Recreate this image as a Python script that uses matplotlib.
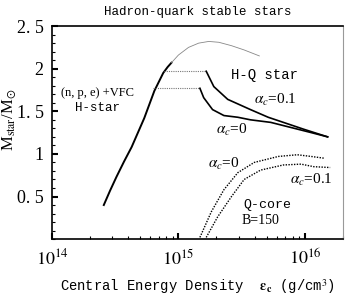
import numpy as np
import matplotlib.pyplot as plt
from matplotlib.ticker import MultipleLocator, LogLocator, NullFormatter

# hadron star branch (solid), log10 of central energy density
h_x = [14.41, 14.46, 14.51, 14.57, 14.63, 14.68, 14.73, 14.77, 14.81, 14.85, 14.88, 14.915, 14.945]
h_m = [0.40, 0.57, 0.73, 0.91, 1.08, 1.25, 1.42, 1.58, 1.74, 1.86, 1.95, 2.02, 2.07]
# continuation of pure hadron branch (thin)
hc_x = [14.945, 15.0, 15.08, 15.16, 15.24, 15.32, 15.42, 15.52, 15.64]
hc_m = [2.07, 2.16, 2.25, 2.30, 2.32, 2.31, 2.27, 2.22, 2.15]
# plateaus (dotted)
p1_x = [14.89, 15.22]
p1_m = [1.97, 1.97]
p0_x = [14.80, 15.17]
p0_m = [1.77, 1.77]
# H-Q star branches
hq1_x = [15.22, 15.28, 15.39, 15.57, 15.71, 15.83, 15.99, 16.18]
hq1_m = [1.97, 1.79, 1.64, 1.52, 1.43, 1.37, 1.29, 1.20]
hq0_x = [15.17, 15.20, 15.27, 15.36, 15.47, 15.57, 15.73, 15.89, 16.05, 16.18]
hq0_m = [1.77, 1.66, 1.52, 1.45, 1.43, 1.40, 1.37, 1.31, 1.25, 1.20]
# Q-core masses
qc0_x = [15.17, 15.26, 15.36, 15.47, 15.60, 15.79, 15.94, 16.05, 16.15]
qc0_m = [0.02, 0.32, 0.58, 0.78, 0.90, 0.97, 0.99, 0.97, 0.95]
qc1_x = [15.22, 15.31, 15.42, 15.52, 15.65, 15.83, 15.97, 16.07, 16.20]
qc1_m = [0.02, 0.26, 0.50, 0.70, 0.81, 0.87, 0.88, 0.85, 0.84]

mono = 'Liberation Mono'
serif = 'Liberation Serif'
plt.rcParams['font.family'] = [mono, 'DejaVu Sans']
plt.rcParams['mathtext.fontset'] = 'stix'

fig = plt.figure(figsize=(3.51, 3.0), dpi=100)
ax = fig.add_axes([0.148, 0.203, 0.829, 0.71])

def p(x):
    return 10 ** np.array(x)

ax.plot(p(h_x), h_m, color='black', lw=1.4)
ax.plot(p(hc_x), hc_m, color='#888888', lw=0.6)
ax.plot(p(p1_x), p1_m, color='#777777', lw=0.8, ls=(0, (1, 1)))
ax.plot(p(p0_x), p0_m, color='#777777', lw=0.8, ls=(0, (1, 1)))
ax.plot(p(hq1_x), hq1_m, color='black', lw=1.2)
ax.plot(p(hq0_x), hq0_m, color='black', lw=1.2)
ax.plot(p(qc0_x), qc0_m, color='black', lw=1.0, ls=(0, (1, 1)))
ax.plot(p(qc1_x), qc1_m, color='black', lw=1.0, ls=(0, (1, 1)))

ax.set_xscale('log')
ax.set_xlim(1e14, 2e16)
ax.set_ylim(0, 2.5)
ax.yaxis.set_minor_locator(MultipleLocator(0.1))
ax.set_yticks([0.5, 1, 1.5, 2, 2.5])
ax.set_yticklabels(['0. 5', '1', '1. 5', '2', '2. 5'], family=serif, fontsize=13)
ax.xaxis.set_minor_locator(LogLocator(base=10, subs=np.arange(2, 10)))
ax.xaxis.set_minor_formatter(NullFormatter())
ax.set_xticks([1e14, 1e15, 1e16])
ax.set_xticklabels([r'$10^{14}$', r'$10^{15}$', r'$10^{16}$'], fontsize=13)
ax.tick_params(which='major', direction='in', length=4, width=1.5)
ax.tick_params(which='minor', direction='in', length=2, width=0.8)
ax.tick_params(axis='x', which='major', pad=7)
ax.tick_params(axis='y', which='major', pad=6)
for s in ['left', 'bottom', 'top']:
    ax.spines[s].set_linewidth(1.2)
ax.spines['right'].set_color('#999999')

ax.set_title('Hadron-quark stable stars', fontsize=9, pad=8)
ax.set_xlabel(r'Central Energy Density  $\mathbf{\varepsilon}_{\mathbf{c}}$ (g/cm$^3$)',
              fontsize=10, labelpad=6)
fig.text(0.025, 0.60, r'M$_{\rm star}$/M$_{\odot}$', family=serif, fontsize=12,
         rotation=90, ha='center', va='center')

kw = dict(ha='center', va='center')
ax.text(10 ** 14.36, 1.71, '(n, p, e) +VFC', family=serif, fontsize=9, **kw)
ax.text(10 ** 14.36, 1.54, 'H-star', fontsize=9, **kw)
ax.text(10 ** 15.68, 1.93, 'H-Q star', fontsize=10, **kw)
ax.text(10 ** 15.77, 1.63, r'$\alpha_c$=0.1', family=serif, fontsize=11, **kw)
ax.text(10 ** 15.42, 1.28, r'$\alpha_c$=0', family=serif, fontsize=11, **kw)
ax.text(10 ** 15.36, 0.88, r'$\alpha_c$=0', family=serif, fontsize=11, **kw)
ax.text(10 ** 16.05, 0.70, r'$\alpha_c$=0.1', family=serif, fontsize=11, **kw)
ax.text(10 ** 15.70, 0.40, 'Q-core', fontsize=9.5, **kw)
ax.text(10 ** 15.65, 0.22, 'B=150', family=serif, fontsize=10, **kw)

fig.savefig('out.png', dpi=100)
